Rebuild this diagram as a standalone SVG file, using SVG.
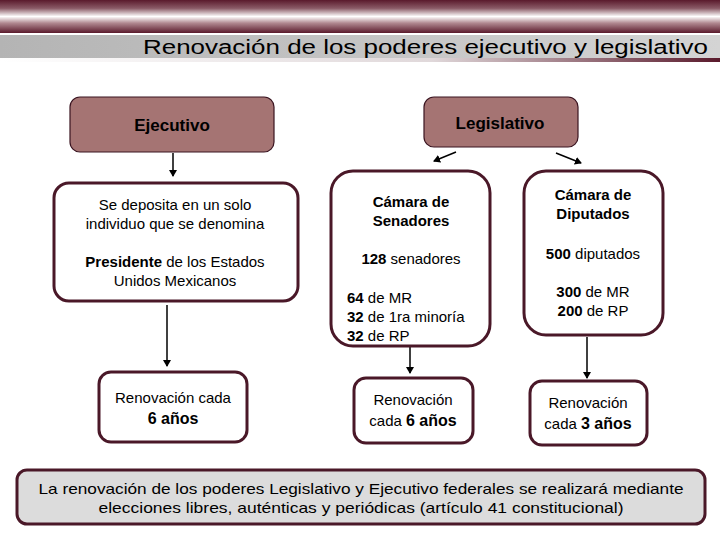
<svg xmlns="http://www.w3.org/2000/svg" width="720" height="540" viewBox="0 0 720 540">
<defs>
<linearGradient id="band" x1="0" y1="0" x2="0" y2="1">
<stop offset="0" stop-color="#5a1a2c"/><stop offset="0.25" stop-color="#8a5a66"/><stop offset="0.5" stop-color="#ffffff"/><stop offset="0.7" stop-color="#b08890"/><stop offset="1" stop-color="#5a1a2c"/>
</linearGradient>
<linearGradient id="gray" x1="0" y1="0" x2="1" y2="0">
<stop offset="0" stop-color="#b4b4b4"/><stop offset="1" stop-color="#d4d4d4"/>
</linearGradient>
<linearGradient id="line" x1="0" y1="0" x2="1" y2="0">
<stop offset="0" stop-color="#ffffff"/><stop offset="0.6" stop-color="#e0d8da"/><stop offset="1" stop-color="#5a1a2c"/>
</linearGradient>
<marker id="ah" markerWidth="8" markerHeight="8" refX="6" refY="4" orient="auto" markerUnits="userSpaceOnUse"><path d="M0,0 L7,4 L0,8 z" fill="#000"/></marker>
</defs>
<style>
.t{font-family:"Liberation Sans",Arial,sans-serif;fill:#000;text-anchor:middle}
.b{font-weight:bold}
.head{fill:#a57473;stroke:#3a1420;stroke-width:1.2}
.box{fill:#fff;stroke:#4a1828;stroke-width:3}
.con{stroke:#000;stroke-width:1.5;fill:none;marker-end:url(#ah)}
</style>
<rect x="0" y="0" width="720" height="33" fill="url(#band)"/>
<rect x="0" y="35" width="720" height="23" fill="url(#gray)"/>
<rect x="0" y="58" width="720" height="4" fill="url(#line)"/>
<text class="t" x="708" y="54" font-size="20" style="text-anchor:end" textLength="565" lengthAdjust="spacingAndGlyphs">Renovación de los poderes ejecutivo y legislativo</text>

<g id="connectors">
<line class="con" x1="173" y1="153" x2="173" y2="176"/>
<line class="con" x1="167" y1="305" x2="167" y2="366"/>
<line class="con" x1="456" y1="152" x2="434" y2="161"/>
<line class="con" x1="556" y1="153" x2="581" y2="163"/>
<line class="con" x1="410" y1="347" x2="410" y2="373"/>
<line class="con" x1="587" y1="337" x2="587" y2="378"/>
</g>

<g id="ejecutivo"><rect class="head" x="70" y="97" width="204" height="55" rx="10"/><text class="t b" x="172" y="131" font-size="17">Ejecutivo</text></g>
<g id="legislativo"><rect class="head" x="424" y="97" width="154" height="50" rx="10"/><text class="t b" x="500" y="129" font-size="17">Legislativo</text></g>

<g id="presidente"><rect class="box" x="54" y="183" width="244" height="118" rx="15"/>
<text class="t" x="175" y="210" font-size="15">Se deposita en un solo</text>
<text class="t" x="175" y="229" font-size="15">individuo que se denomina</text>
<text class="t" x="175" y="267" font-size="15"><tspan class="b">Presidente</tspan> de los Estados</text>
<text class="t" x="175" y="286" font-size="15">Unidos Mexicanos</text></g>

<g id="renov-ej"><rect class="box" x="99" y="372" width="148" height="70" rx="12"/>
<text class="t" x="173" y="403" font-size="15">Renovación cada</text>
<text class="t b" x="173" y="424" font-size="16">6 años</text></g>

<g id="senadores"><rect class="box" x="331" y="171" width="159" height="175" rx="22"/>
<text class="t b" x="411" y="207" font-size="15">Cámara de</text>
<text class="t b" x="411" y="226" font-size="15">Senadores</text>
<text class="t" x="411" y="264" font-size="15"><tspan class="b">128</tspan> senadores</text>
<text class="t" x="347" y="303" font-size="15" style="text-anchor:start"><tspan class="b">64</tspan> de MR</text>
<text class="t" x="347" y="322" font-size="15" style="text-anchor:start"><tspan class="b">32</tspan> de 1ra minoría</text>
<text class="t" x="347" y="341" font-size="15" style="text-anchor:start"><tspan class="b">32</tspan> de RP</text></g>

<g id="diputados"><rect class="box" x="524" y="171" width="139" height="164" rx="22"/>
<text class="t b" x="593" y="200" font-size="15">Cámara de</text>
<text class="t b" x="593" y="219" font-size="15">Diputados</text>
<text class="t" x="593" y="259" font-size="15"><tspan class="b">500</tspan> diputados</text>
<text class="t" x="593" y="297" font-size="15"><tspan class="b">300</tspan> de MR</text>
<text class="t" x="593" y="316" font-size="15"><tspan class="b">200</tspan> de RP</text></g>

<g id="renov-sen"><rect class="box" x="354" y="378" width="119" height="65" rx="12"/>
<text class="t" x="413" y="405" font-size="15">Renovación</text>
<text class="t" x="413" y="426" font-size="15">cada <tspan class="b" font-size="16">6 años</tspan></text></g>

<g id="renov-dip"><rect class="box" x="530" y="381" width="117" height="64" rx="12"/>
<text class="t" x="588" y="408" font-size="15">Renovación</text>
<text class="t" x="588" y="429" font-size="15">cada <tspan class="b" font-size="16">3 años</tspan></text></g>

<g id="nota"><rect x="17" y="470" width="688" height="54" rx="10" fill="#dcdcdc" stroke="#4a1828" stroke-width="3"/>
<text class="t" x="361" y="494" font-size="15" textLength="645" lengthAdjust="spacingAndGlyphs">La renovación de los poderes Legislativo y Ejecutivo federales se realizará mediante</text>
<text class="t" x="361" y="513" font-size="15" textLength="525" lengthAdjust="spacingAndGlyphs">elecciones libres, auténticas y periódicas (artículo 41 constitucional)</text></g>
</svg>
